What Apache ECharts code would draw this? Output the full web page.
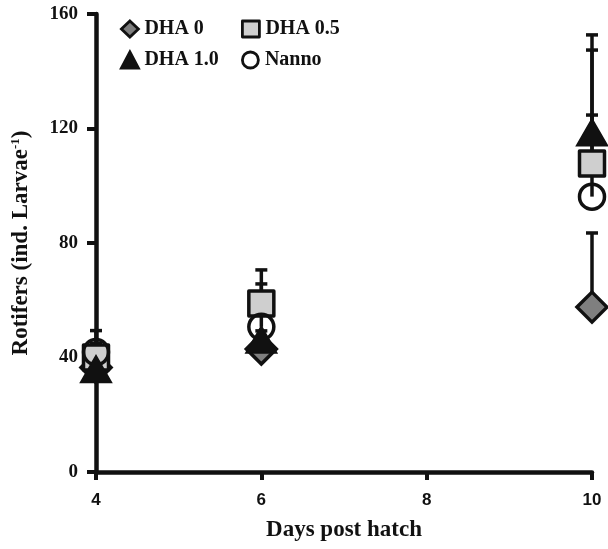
<!DOCTYPE html>
<html>
<head>
<meta charset="utf-8">
<script src="https://cdn.jsdelivr.net/npm/echarts@6/dist/echarts.min.js"></script>
<style>
  html, body { margin: 0; padding: 0; background: #fff; }
  #chart { width: 608px; height: 549px; }
</style>
</head>
<body>
<div id="chart"></div>
<script>
// days post hatch
var days = [4, 6, 10];

// mean rotifers per larva, and upper error (SE)
var dha0 = [36.5, 43, 57.6];
var dha0Err = [3, 3, 25.9];
var dha05 = [40, 58.9, 107.8];
var dha05Err = [9.4, 11.7, 39.6];
var dha10 = [36, 46.3, 118.7];
var dha10Err = [2, 3, 34];
var nanno = [41.9, 50.7, 96.2];
var nannoErr = [3, 15, 28.5];

var yTicks = [0, 40, 80, 120, 160];
var xTicks = [4, 6, 8, 10];

var names = ['DHA 0', 'DHA 0.5', 'DHA 1.0', 'Nanno'];

var SERIF = '"Liberation Serif", "Times New Roman", serif';
var SANS = '"Liberation Sans", Arial, sans-serif';
var INK = '#111';

function pts(vals) {
    return days.map(function (d, i) { return [d, vals[i]]; });
}
function errPts(vals, errs) {
    return days.map(function (d, i) { return [d, vals[i], vals[i] + errs[i]]; });
}

function errSeries(vals, errs) {
    return {
        type: 'custom',
        z: 1,
        silent: true,
        data: errPts(vals, errs),
        renderItem: function (params, api) {
            var lo = api.coord([api.value(0), api.value(1)]);
            var hi = api.coord([api.value(0), api.value(2)]);
            var st = { stroke: INK, lineWidth: 3.5 };
            return {
                type: 'group',
                children: [
                    { type: 'line', shape: { x1: lo[0], y1: lo[1], x2: hi[0], y2: hi[1] }, style: st },
                    { type: 'line', shape: { x1: hi[0] - 6, y1: hi[1], x2: hi[0] + 6, y2: hi[1] }, style: st }
                ]
            };
        }
    };
}

var chart = echarts.init(document.getElementById('chart'), null, { renderer: 'canvas' });

// one legend per entry so they sit in a fixed 2x2 block
var legendPos = [[115, 14], [236, 14], [115, 45], [236, 45]];
var legends = names.map(function (n, i) {
    return {
        data: [n],
        left: legendPos[i][0],
        top: legendPos[i][1],
        itemWidth: 17,
        itemHeight: 16,
        itemGap: 0,
        selectedMode: false,
        itemStyle: { borderWidth: 2.8 },
        textStyle: { fontFamily: SERIF, fontWeight: 'bold', fontSize: 20, color: INK, padding: [0, 0, 0, 1] }
    };
});

var option = {
    animation: false,
    backgroundColor: '#fff',
    legend: legends,
    grid: { left: 96, right: 16, top: 14, bottom: 77, containLabel: false, outerBoundsMode: 'none' },
    xAxis: {
        type: 'value',
        min: 4,
        max: 10,
        interval: 2,
        name: 'Days post hatch',
        nameLocation: 'middle',
        nameGap: 47,
        nameTextStyle: { fontFamily: SERIF, fontWeight: 'bold', fontSize: 23, color: INK },
        splitLine: { show: false },
        axisLine: { lineStyle: { color: INK, width: 4.5 } },
        axisTick: { length: 8, lineStyle: { color: INK, width: 4 } },
        axisLabel: {
            margin: 20,
            fontFamily: SANS, fontWeight: 'bold', fontSize: 17, color: INK,
            formatter: function (v) { return xTicks.indexOf(v) > -1 ? String(v) : ''; }
        }
    },
    yAxis: {
        type: 'value',
        min: 0,
        max: 160,
        interval: 40,
        name: '{a|Rotifers (ind. Larvae}{s|-1}{a|)}',
        nameLocation: 'middle',
        nameRotate: 90,
        nameGap: 62,
        nameTextStyle: {
            rich: {
                a: { fontFamily: SERIF, fontWeight: 'bold', fontSize: 23, color: INK, lineHeight: 25 },
                s: { fontFamily: SERIF, fontWeight: 'bold', fontSize: 13, color: INK, lineHeight: 25, verticalAlign: 'top' }
            }
        },
        splitLine: { show: false },
        axisLine: { lineStyle: { color: INK, width: 4.5 } },
        axisTick: { length: 9, lineStyle: { color: INK, width: 4 } },
        axisLabel: {
            margin: 18,
            fontFamily: SERIF, fontWeight: 'bold', fontSize: 19, color: INK,
            formatter: function (v) { return yTicks.indexOf(v) > -1 ? String(v) : ''; }
        }
    },
    series: [
        errSeries(dha0, dha0Err),
        errSeries(dha05, dha05Err),
        errSeries(nanno, nannoErr),
        errSeries(dha10, dha10Err),
        {
            name: 'DHA 0', type: 'scatter', z: 2, data: pts(dha0),
            symbol: 'diamond', symbolSize: 30,
            itemStyle: { color: '#7f7f7f', borderColor: INK, borderWidth: 3.5, opacity: 1 }
        },
        {
            name: 'DHA 0.5', type: 'scatter', z: 2, data: pts(dha05),
            symbol: 'rect', symbolSize: 25,
            itemStyle: { color: '#cfcfcf', borderColor: INK, borderWidth: 3.5, opacity: 1, borderJoin: 'round' }
        },
        {
            name: 'Nanno', type: 'scatter', z: 2, data: pts(nanno),
            symbol: 'circle', symbolSize: 25,
            itemStyle: { color: 'transparent', borderColor: INK, borderWidth: 3.5, opacity: 1 }
        },
        {
            name: 'DHA 1.0', type: 'scatter', z: 2, data: pts(dha10),
            symbol: 'triangle', symbolSize: [31, 27],
            itemStyle: { color: INK, borderColor: INK, borderWidth: 1.5, opacity: 1 }
        }
    ]
};

chart.setOption(option);
</script>
</body>
</html>
